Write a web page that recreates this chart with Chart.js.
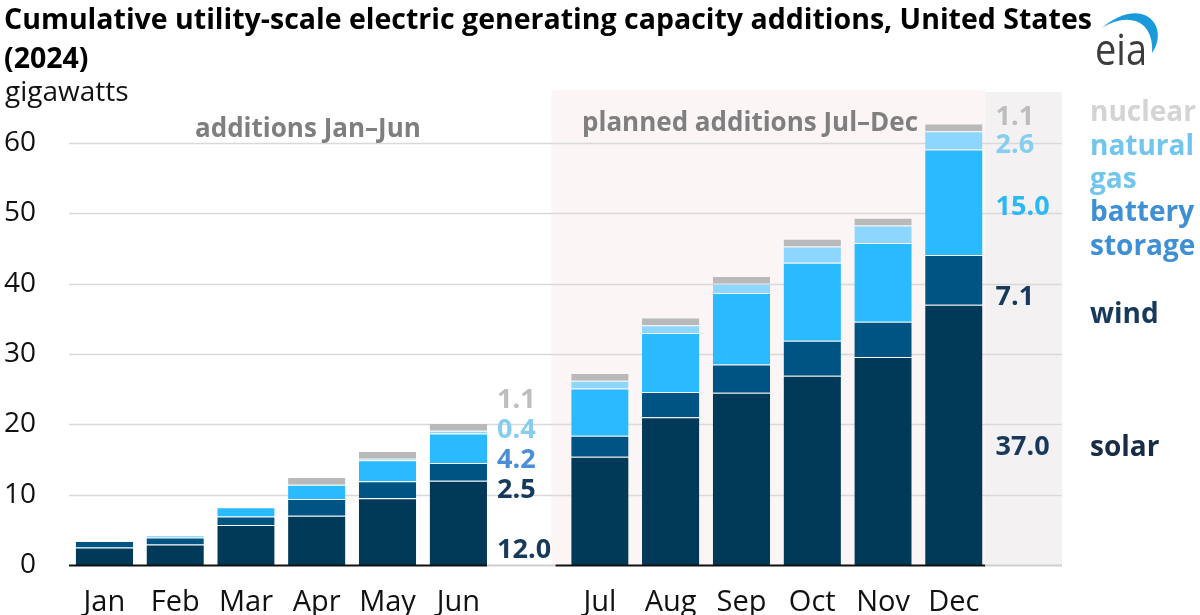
<!DOCTYPE html>
<html>
<head>
<meta charset="utf-8">
<script src="https://cdn.jsdelivr.net/npm/chart.js@4.4.1/dist/chart.umd.min.js"></script>
<style>
  html, body { margin: 0; padding: 0; background: #fff; }
  body { width: 1200px; height: 615px; position: relative; overflow: hidden; font-family: "Open Sans", sans-serif; }
  canvas { position: absolute; left: 0; top: 0; }
  .title { position: absolute; left: 4px; top: -1px; font-size: 28.5px; font-weight: 700; line-height: 39px; color: #000; white-space: nowrap; }
  .units { position: absolute; left: 5px; top: 73px; font-size: 28px; line-height: 34px; color: #111; }
  .period { position: absolute; font-size: 26px; font-weight: 700; color: #7f7f7f; line-height: 30px; white-space: nowrap; }
  #logo { position: absolute; left: 1080px; top: 0px; }
</style>
</head>
<body>
<canvas id="chart" width="1200" height="615"></canvas>
<div class="title">Cumulative utility-scale electric generating capacity additions, United States<br>(2024)</div>
<div class="units">gigawatts</div>
<div class="period" style="left:195px; top:112px;">additions Jan–Jun</div>
<div class="period" style="left:582px; top:106px;">planned additions Jul–Dec</div>
<svg id="logo" width="120" height="100" viewBox="0 0 120 100">
  <path d="M22 28 C40 12 66 6 76 26 C80 36 77 46 72 53 C73 42 70 32 64 26 C54 17 38 18 22 28 Z" fill="#1a9ad9"/>
  <text x="15" y="65" font-family="Open Sans, sans-serif" font-size="43" fill="#3c3c3c" textLength="52" lengthAdjust="spacingAndGlyphs">eia</text>
</svg>
<script>
// months: Jan-Jun are actual additions, Jul-Dec are planned
const monthsActual = ["Jan", "Feb", "Mar", "Apr", "May", "Jun"];
const monthsPlanned = ["Jul", "Aug", "Sep", "Oct", "Nov", "Dec"];

// cumulative capacity, gigawatts (Jan..Dec)
const solar   = [2.5, 2.9, 5.7, 7.0, 9.5, 12.0, 15.4, 21.0, 24.5, 26.9, 29.6, 37.0];
const wind    = [0.9, 1.0, 1.2, 2.4, 2.4, 2.5, 3.0, 3.6, 4.0, 5.0, 5.0, 7.1];
const battery = [0.0, 0.3, 1.3, 2.0, 3.0, 4.2, 6.7, 8.4, 10.2, 11.1, 11.2, 15.0];
const gas     = [0.0, 0.0, 0.0, 0.0, 0.2, 0.4, 1.1, 1.1, 1.3, 2.3, 2.5, 2.6];
const nuclear = [0.0, 0.0, 0.0, 1.1, 1.1, 1.1, 1.1, 1.1, 1.1, 1.1, 1.1, 1.1];

const yTicks = [0, 10, 20, 30, 40, 50, 60];

// empty category after each half holds the value labels
const categories = [...monthsActual, "", ...monthsPlanned, ""];
const withGaps = (arr) => [...arr.slice(0, 6), null, ...arr.slice(6), null];

const series = [
  { name: "solar", data: solar, color: "#003a58", text: "#182d45", legend: ["solar"] },
  { name: "wind", data: wind, color: "#005483", text: "#173a5c", legend: ["wind"] },
  { name: "battery storage", data: battery, color: "#29baff", text: "#3f8fd4", legend: ["battery", "storage"] },
  { name: "natural gas", data: gas, color: "#8cd6ff", text: "#72c5ec", legend: ["natural", "gas"] },
  { name: "nuclear", data: nuclear, color: "#b9b9b9", text: "#d4d4d4", legend: ["nuclear"] },
];

// where the value labels and legend sit, in gigawatts (baseline), same order as series
const junLabelAt = [1.0, 9.5, 13.8, 18.1, 22.3];
const junLabelColors = ["#173a5c", "#173a5c", "#4a8ed6", "#86cdf2", "#bdbdbd"];
const decLabelAt = [15.6, 37.0, 49.8, 58.6, 62.6];
const decLabelColors = ["#173a5c", "#173a5c", "#2cb7f5", "#86cdf2", "#bdbdbd"];
const legendAt = [[15.5], [34.4], [48.9, 44.1], [58.3, 53.6], [63.2]];

const overlay = {
  id: "overlay",
  beforeDatasetsDraw(chart) {
    const { ctx, chartArea, scales: { x, y } } = chart;
    const half = (x.getPixelForValue(1) - x.getPixelForValue(0)) / 2;
    const pinkLeft = x.getPixelForValue(7) - half - 13;
    const grayLeft = x.getPixelForValue(13) - half - 4;
    const top = chartArea.top - 18;
    ctx.save();
    ctx.fillStyle = "#fbf5f5";
    ctx.fillRect(pinkLeft, top, grayLeft - pinkLeft, chartArea.bottom - top);
    ctx.fillStyle = "#f3f1f1";
    ctx.fillRect(grayLeft, top + 2, chartArea.right + 2 - grayLeft, chartArea.bottom - top - 2);
    ctx.strokeStyle = "#d9d9d9";
    ctx.lineWidth = 1.5;
    yTicks.forEach((v) => {
      if (v === 0) return;
      const py = Math.round(y.getPixelForValue(v)) + 0.5;
      ctx.beginPath();
      ctx.moveTo(chartArea.left, py);
      ctx.lineTo(chartArea.right + 2, py);
      ctx.stroke();
    });
    ctx.restore();
  },
  afterDatasetsDraw(chart) {
    const { ctx, chartArea, scales: { x, y } } = chart;
    const half = (x.getPixelForValue(1) - x.getPixelForValue(0)) / 2;
    const barHalf = half * 0.81;
    const junRight = x.getPixelForValue(5) + barHalf;
    const pinkLeft = x.getPixelForValue(7) - half - 9;
    const grayLeft = x.getPixelForValue(13) - half - 4;
    const py = y.getPixelForValue(0) + 0.5;
    ctx.save();
    const seg = (x0, x1, color) => {
      ctx.strokeStyle = color;
      ctx.lineWidth = 2;
      ctx.beginPath();
      ctx.moveTo(x0, py);
      ctx.lineTo(x1, py);
      ctx.stroke();
    };
    seg(chartArea.left, junRight, "#111");
    seg(junRight, pinkLeft, "#cfcfcf");
    seg(pinkLeft, grayLeft, "#111");
    seg(grayLeft, chartArea.right + 2, "#cfcfcf");

    ctx.font = "700 27px 'Open Sans'";
    ctx.textBaseline = "alphabetic";
    ctx.textAlign = "left";
    const junX = x.getPixelForValue(6) - 32;
    const decX = x.getPixelForValue(13) - 29;
    series.forEach((s, i) => {
      ctx.fillStyle = junLabelColors[i];
      ctx.fillText(s.data[5].toFixed(1), junX, y.getPixelForValue(junLabelAt[i]));
      ctx.fillStyle = decLabelColors[i];
      ctx.fillText(s.data[11].toFixed(1), decX, y.getPixelForValue(decLabelAt[i]));
    });

    ctx.font = "700 28px 'Open Sans'";
    const legX = chartArea.right + 30;
    series.forEach((s, i) => {
      ctx.fillStyle = s.text;
      s.legend.forEach((line, j) => ctx.fillText(line, legX, y.getPixelForValue(legendAt[i][j])));
    });
    ctx.restore();
  },
};

new Chart(document.getElementById("chart"), {
  type: "bar",
  data: {
    labels: categories,
    datasets: series.map((s) => ({
      label: s.name,
      data: withGaps(s.data),
      backgroundColor: s.color,
      borderColor: "rgba(255,255,255,0.18)",
      borderWidth: { top: 1, right: 0, bottom: 0, left: 0 },
      borderSkipped: false,
      barPercentage: 0.81,
      categoryPercentage: 1,
    })),
  },
  options: {
    responsive: false,
    animation: false,
    layout: { padding: { top: 108, right: 140, bottom: 0, left: 0 } },
    plugins: { legend: { display: false }, tooltip: { enabled: false } },
    scales: {
      x: {
        stacked: true,
        grid: { display: false },
        border: { display: false },
        ticks: { color: "#111", font: { family: "Open Sans", size: 29 }, padding: 12, maxRotation: 0, autoSkip: false },
        afterFit: (scale) => { scale.height = 50; },
      },
      y: {
        stacked: true,
        min: 0,
        max: 65,
        grid: { display: false },
        border: { display: false },
        ticks: { color: "#111", font: { family: "Open Sans", size: 28 }, padding: 25 },
        afterBuildTicks: (scale) => { scale.ticks = yTicks.map((v) => ({ value: v })); },
        afterFit: (scale) => { scale.width = 69; },
      },
    },
  },
  plugins: [overlay],
});
</script>
</body>
</html>
